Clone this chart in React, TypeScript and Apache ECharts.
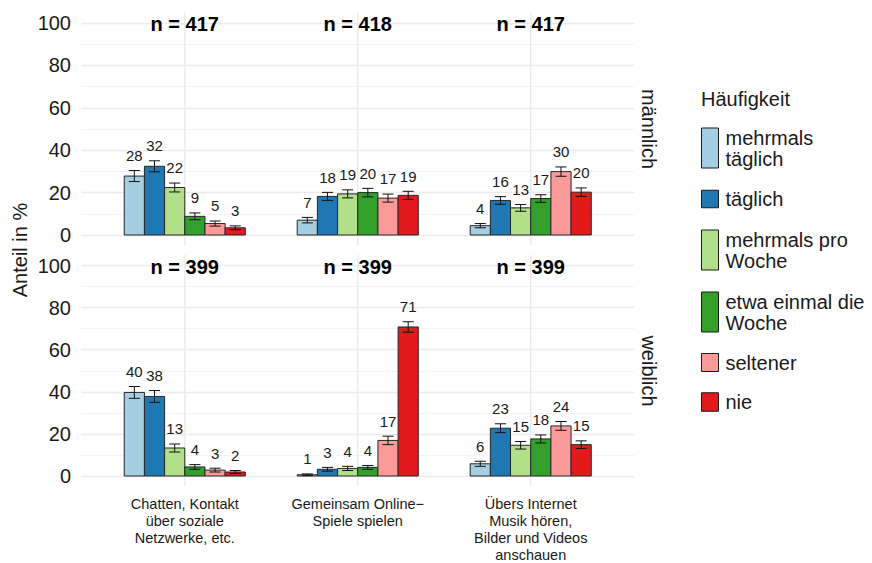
import React, { useEffect, useRef } from "react";
import * as echarts from "echarts";

const categories = [
  "Chatten, Kontakt\nüber soziale\nNetzwerke, etc.",
  "Gemeinsam Online−\nSpiele spielen",
  "Übers Internet\nMusik hören,\nBilder und Videos\nanschauen",
];
const levels = [
  "mehrmals täglich",
  "täglich",
  "mehrmals pro Woche",
  "etwa einmal die Woche",
  "seltener",
  "nie",
];
const levelLegendText: Record<string, string> = {
  "mehrmals täglich": "mehrmals\ntäglich",
  "täglich": "täglich",
  "mehrmals pro Woche": "mehrmals pro\nWoche",
  "etwa einmal die Woche": "etwa einmal die\nWoche",
  "seltener": "seltener",
  "nie": "nie",
};
const colors = ["#A6CEE3", "#1F78B4", "#B2DF8A", "#33A02C", "#FB9A99", "#E31A1C"];
const genders = ["männlich", "weiblich"];

// values per level, across the 3 categories
const maleValues = [
  [27.8, 7.0, 4.4],
  [32.4, 18.2, 16.3],
  [22.4, 19.4, 12.8],
  [8.8, 20.0, 17.2],
  [5.4, 17.4, 29.9],
  [3.4, 18.7, 20.2],
];
const maleErrors = [
  [2.6, 1.3, 1.0],
  [2.6, 1.9, 1.8],
  [2.1, 1.9, 1.6],
  [1.6, 2.0, 1.8],
  [1.2, 1.9, 2.2],
  [0.9, 1.9, 2.0],
];
const femaleValues = [
  [39.7, 0.6, 5.8],
  [37.8, 3.2, 22.7],
  [13.3, 3.6, 14.6],
  [4.3, 4.1, 17.6],
  [2.8, 16.9, 23.8],
  [1.9, 70.8, 14.9],
];
const femaleErrors = [
  [2.8, 0.4, 1.2],
  [2.8, 0.9, 2.1],
  [1.9, 1.0, 1.8],
  [1.1, 0.9, 1.9],
  [0.9, 2.0, 2.1],
  [0.7, 2.5, 1.8],
];
const maleN = [417, 418, 417];
const femaleN = [399, 399, 399];

const FONT = "'Liberation Sans', Arial, Helvetica, sans-serif";
const TEXT = "#1A1A1A";
const GRID = "#EBEBEB";

export default function App() {
  const ref = useRef<HTMLDivElement>(null);
  useEffect(() => {
    if (!ref.current) return;
    const chart = echarts.init(ref.current, null, { renderer: "svg" });

    const panelTop = [23, 265.5];
    const panelH = 212;
    const grids = panelTop.map((t) => ({ left: 81, width: 553.5, top: t, height: panelH }));

    const xAxes = [0, 1].map((g) => ({
      type: "value",
      gridIndex: g,
      min: 0.4,
      max: 3.6,
      axisLine: { show: false },
      axisTick: { show: false },
      splitLine: { show: false },
      axisLabel:
        g === 1
          ? {
              show: true,
              customValues: [1, 2, 3],
              formatter: (v: number) => categories[Math.round(v) - 1] ?? "",
              fontFamily: FONT,
              fontSize: 14.5,
              lineHeight: 17,
              color: TEXT,
              margin: 19,
              verticalAlign: "top",
            }
          : { show: false },
    }));
    const yAxes = [0, 1].map((g) => ({
      type: "value",
      gridIndex: g,
      min: 0,
      max: 100,
      interval: 20,
      axisLine: { show: false },
      axisTick: { show: false },
      axisLabel: { fontFamily: FONT, fontSize: 20, color: TEXT, margin: 10 },
      splitLine: { show: true, lineStyle: { color: GRID, width: 1.4 } },
      minorTick: { show: false, splitNumber: 2 },
      minorSplitLine: { show: true, lineStyle: { color: "#F0F0F0", width: 0.8 } },
    }));

    const series: any[] = [];
    const w = 0.7 / 6;

    [0, 1].forEach((g) => {
      // vertical grid lines at category centres
      series.push({
        type: "custom",
        xAxisIndex: g,
        yAxisIndex: g,
        clip: false,
        silent: true,
        z: 1,
        data: [[1], [2], [3]],
        renderItem: (params: any, api: any) => {
          const x = api.value(0);
          const a = api.coord([x, -5]);
          const b = api.coord([x, 105]);
          return {
            type: "line",
            shape: { x1: a[0], y1: a[1], x2: b[0], y2: b[1] },
            style: { stroke: GRID, lineWidth: 1.4 },
          };
        },
      });
      // n labels
      const ns = g === 0 ? maleN : femaleN;
      series.push({
        type: "custom",
        xAxisIndex: g,
        yAxisIndex: g,
        clip: false,
        silent: true,
        z: 3,
        data: ns.map((n, i) => [i + 1, n]),
        renderItem: (params: any, api: any) => {
          const p = api.coord([api.value(0), 99.5]);
          return {
            type: "text",
            x: p[0],
            y: p[1],
            style: {
              text: "n = " + api.value(1),
              fontFamily: FONT,
              fontSize: 20,
              fontWeight: "bold",
              fill: "#000",
              align: "center",
              verticalAlign: "middle",
            },
          };
        },
      });
      const vals = g === 0 ? maleValues : femaleValues;
      const errs = g === 0 ? maleErrors : femaleErrors;
      levels.forEach((lv, k) => {
        series.push({
          type: "custom",
          name: lv,
          xAxisIndex: g,
          yAxisIndex: g,
          clip: false,
          z: 2,
          itemStyle: { color: colors[k], borderColor: "#1A1A1A", borderWidth: 1 },
          data: vals[k].map((v, i) => [i + 1, v, errs[k][i]]),
          renderItem: (params: any, api: any) => {
            const x = api.value(0);
            const v = api.value(1);
            const e = api.value(2);
            const xc = x - 0.35 + w * (k + 0.5);
            const p1 = api.coord([xc - w / 2, v]);
            const p0 = api.coord([xc + w / 2, 0]);
            const ww = (w * 0.55) / 2;
            const top = api.coord([xc, v + e]);
            const bot = api.coord([xc, Math.max(v - e, 0)]);
            const tl = api.coord([xc - ww, v + e]);
            const tr = api.coord([xc + ww, v + e]);
            const bl = api.coord([xc - ww, Math.max(v - e, 0)]);
            const br = api.coord([xc + ww, Math.max(v - e, 0)]);
            const lab = api.coord([xc, v + e + 7.2]);
            const stroke = { stroke: "#111", lineWidth: 1 };
            return {
              type: "group",
              children: [
                {
                  type: "rect",
                  shape: { x: p1[0], y: p1[1], width: p0[0] - p1[0], height: p0[1] - p1[1] },
                  style: { fill: colors[k], stroke: "#262626", lineWidth: 1 },
                },
                { type: "line", shape: { x1: top[0], y1: top[1], x2: bot[0], y2: bot[1] }, style: stroke },
                { type: "line", shape: { x1: tl[0], y1: tl[1], x2: tr[0], y2: tr[1] }, style: stroke },
                { type: "line", shape: { x1: bl[0], y1: bl[1], x2: br[0], y2: br[1] }, style: stroke },
                {
                  type: "text",
                  x: lab[0],
                  y: lab[1],
                  style: {
                    text: String(Math.round(v)),
                    fontFamily: FONT,
                    fontSize: 15,
                    fill: TEXT,
                    align: "center",
                    verticalAlign: "middle",
                  },
                },
              ],
            };
          },
        });
      });
    });

    // legends: one per item to allow different key heights
    const keyTops = [128, 190.5, 230, 292, 354, 393.5];
    const keyHeights = [40, 17.5, 40, 40, 18, 18.5];
    const legends = levels.map((lv, k) => ({
      data: [{ name: lv, icon: "rect" }],
      left: 701,
      top: keyTops[k] - (keyHeights[k] > 30 ? 1 : 2),
      orient: "vertical",
      padding: 0,
      itemWidth: 17,
      itemHeight: keyHeights[k],
      itemGap: 0,
      selectedMode: false,
      itemStyle: { color: colors[k], borderColor: "#1A1A1A", borderWidth: 1 },
      formatter: (name: string) => levelLegendText[name] ?? name,
      textStyle: { fontFamily: FONT, fontSize: 20, lineHeight: 21, color: TEXT, padding: [0, 0, 0, 2] },
    }));

    chart.setOption({
      animation: false,
      backgroundColor: "#FFFFFF",
      grid: grids,
      xAxis: xAxes,
      yAxis: yAxes,
      legend: legends,
      series,
      graphic: [
        {
          type: "text",
          x: 20,
          y: 250,
          rotation: Math.PI / 2,
          style: {
            text: "Anteil in %",
            fontFamily: FONT,
            fontSize: 20,
            fill: TEXT,
            align: "center",
            verticalAlign: "middle",
          },
        },
        {
          type: "text",
          x: 649,
          y: 129,
          rotation: -Math.PI / 2,
          style: {
            text: genders[0],
            fontFamily: FONT,
            fontSize: 20,
            fill: TEXT,
            align: "center",
            verticalAlign: "middle",
          },
        },
        {
          type: "text",
          x: 649,
          y: 371,
          rotation: -Math.PI / 2,
          style: {
            text: genders[1],
            fontFamily: FONT,
            fontSize: 20,
            fill: TEXT,
            align: "center",
            verticalAlign: "middle",
          },
        },
        {
          type: "text",
          x: 701,
          y: 98.5,
          style: {
            text: "Häufigkeit",
            fontFamily: FONT,
            fontSize: 20,
            fill: TEXT,
            align: "left",
            verticalAlign: "middle",
          },
        },
      ],
    });
    return () => chart.dispose();
  }, []);
  return (
    <div
      ref={ref}
      style={{ position: "fixed", left: 0, top: 0, width: 872, height: 563, background: "#fff" }}
    />
  );
}
